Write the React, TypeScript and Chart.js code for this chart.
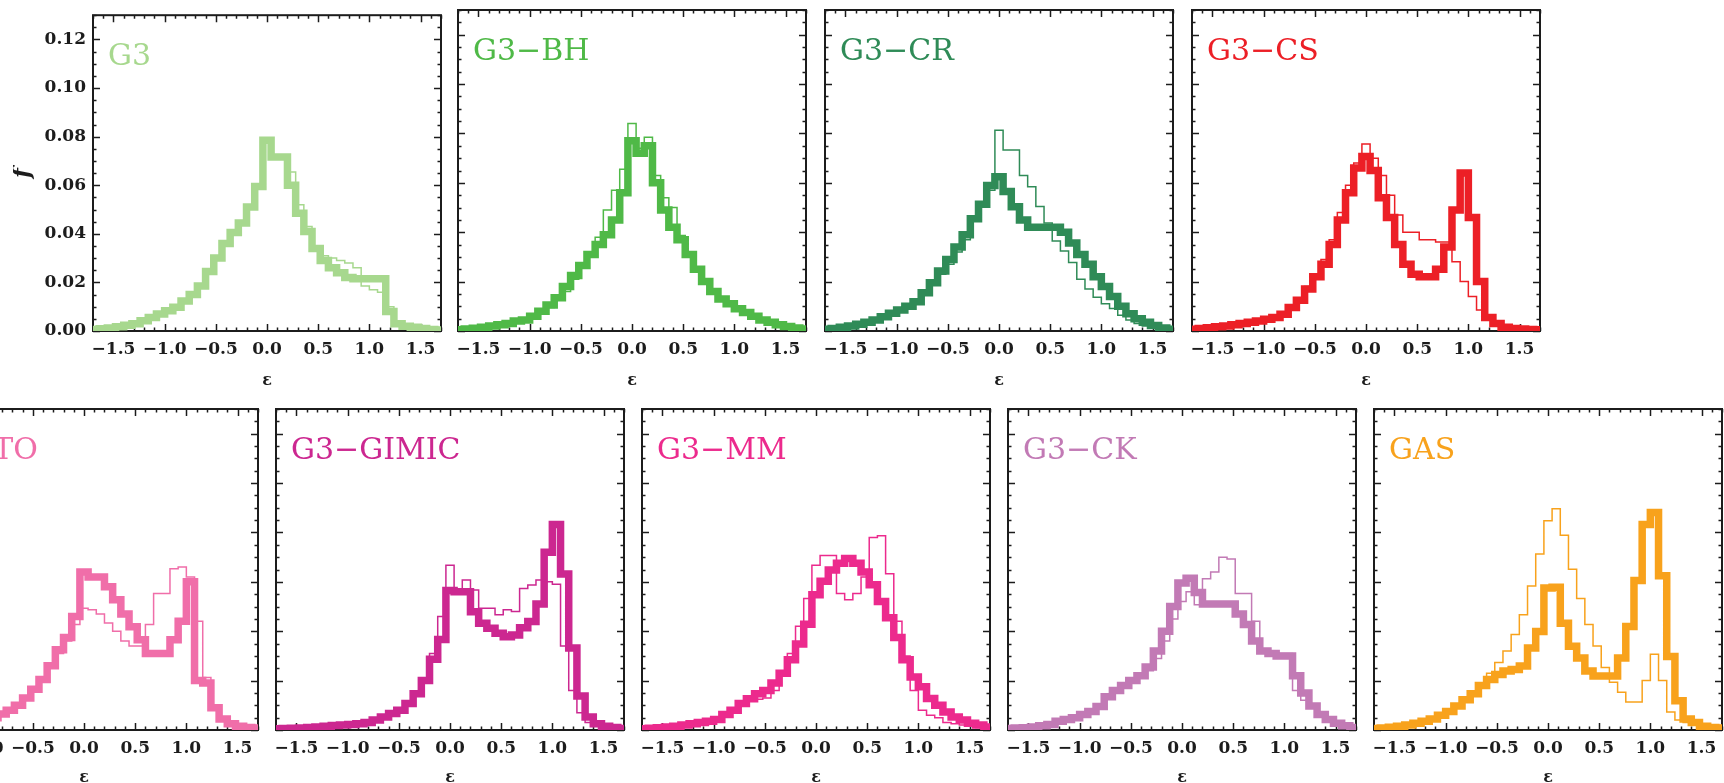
import React, { useEffect, useRef } from "react";
import { Chart, registerables } from "chart.js";

Chart.register(...registerables);

// ---------------------------------------------------------------------------
// Data: circularity (ε) distributions, bin width 0.08
// ---------------------------------------------------------------------------
const EPS_BINS = [
  -1.68, -1.6, -1.52, -1.44, -1.36, -1.28, -1.2, -1.12, -1.04, -0.96,
  -0.88, -0.8, -0.72, -0.64, -0.56, -0.48, -0.4, -0.32, -0.24, -0.16,
  -0.08, 0, 0.08, 0.16, 0.24, 0.32, 0.4, 0.48, 0.56, 0.64,
  0.72, 0.8, 0.88, 0.96, 1.04, 1.12, 1.2, 1.28, 1.36, 1.44,
  1.52, 1.6, 1.68,
];

const X_TICKS = [-1.5, -1.0, -0.5, 0.0, 0.5, 1.0, 1.5];
const Y_TICKS = [0, 0.02, 0.04, 0.06, 0.08, 0.1, 0.12];
const X_MIN = -1.7;
const X_MAX = 1.7;
const Y_MIN = 0;
const Y_MAX = 0.13;

const MODEL_NAMES = ["G3", "G3−BH", "G3−CR", "G3−CS", "G3−TO", "G3−GIMIC", "G3−MM", "G3−CK", "GAS"];

const G3_THICK = [
  0.0006, 0.0009, 0.0012, 0.0017, 0.0024, 0.003, 0.0042, 0.0056, 0.007, 0.0083,
  0.0098, 0.0123, 0.015, 0.0185, 0.0245, 0.03, 0.036, 0.0405, 0.0445, 0.051,
  0.0595, 0.0785, 0.0716, 0.0716, 0.06, 0.0485, 0.041, 0.034, 0.029, 0.026,
  0.024, 0.022, 0.0215, 0.0215, 0.0215, 0.0215, 0.008, 0.003, 0.002, 0.0015,
  0.001, 0.0006, 0.0004,
];
const G3_THIN = [
  0.0006, 0.0009, 0.0012, 0.0017, 0.0024, 0.003, 0.0042, 0.0056, 0.007, 0.0083,
  0.0098, 0.0123, 0.015, 0.0185, 0.0245, 0.03, 0.036, 0.0405, 0.0445, 0.051,
  0.0595, 0.0785, 0.0716, 0.0716, 0.0655, 0.052, 0.043, 0.035, 0.031, 0.03,
  0.029, 0.028, 0.026, 0.0185, 0.017, 0.016, 0.01, 0.004, 0.002, 0.0015,
  0.001, 0.0006, 0.0004,
];

const BH_THICK = [
  0.0005, 0.0008, 0.0011, 0.0015, 0.002, 0.0025, 0.003, 0.004, 0.0045, 0.006,
  0.008, 0.0105, 0.0135, 0.018, 0.0225, 0.0265, 0.031, 0.035, 0.039, 0.045,
  0.056, 0.077, 0.072, 0.075, 0.06, 0.049, 0.042, 0.037, 0.031, 0.025,
  0.02, 0.016, 0.013, 0.011, 0.009, 0.0075, 0.006, 0.0045, 0.0035, 0.0025,
  0.0018, 0.0012, 0.0008,
];
const BH_THIN = [
  0.0005, 0.0008, 0.0011, 0.0015, 0.002, 0.0025, 0.003, 0.004, 0.0045, 0.006,
  0.0075, 0.0095, 0.0125, 0.016, 0.021, 0.0265, 0.032, 0.038, 0.049, 0.057,
  0.0655, 0.084, 0.074, 0.0785, 0.063, 0.054, 0.05, 0.0387, 0.031, 0.025,
  0.02, 0.016, 0.013, 0.011, 0.009, 0.0075, 0.006, 0.0045, 0.0035, 0.0025,
  0.0018, 0.0012, 0.0008,
];

const CR_THICK = [
  0.0007, 0.001, 0.0015, 0.002, 0.0027, 0.0035, 0.0045, 0.0058, 0.0072, 0.0085,
  0.01, 0.0118, 0.0155, 0.0195, 0.0243, 0.029, 0.034, 0.039, 0.0455, 0.0513,
  0.0589, 0.0625, 0.0565, 0.0503, 0.045, 0.042, 0.042, 0.042, 0.042, 0.04,
  0.0356, 0.031, 0.027, 0.022, 0.018, 0.014, 0.01, 0.007, 0.005, 0.0035,
  0.0022, 0.0012, 0.0007,
];
const CR_THIN = [
  0.0007, 0.001, 0.0015, 0.002, 0.0027, 0.0035, 0.0045, 0.0058, 0.0072, 0.0085,
  0.01, 0.0118, 0.015, 0.019, 0.023, 0.027, 0.032, 0.037, 0.0445, 0.0505,
  0.057, 0.0813, 0.0733, 0.0733, 0.063, 0.0584, 0.0504, 0.0437, 0.0364, 0.0324,
  0.0277, 0.021, 0.017, 0.0137, 0.011, 0.0091, 0.0064, 0.0045, 0.003, 0.002,
  0.0012, 0.0007, 0.0004,
];

const CS_THICK = [
  0.0007, 0.001, 0.0013, 0.0017, 0.002, 0.0025, 0.003, 0.0035, 0.004, 0.0048,
  0.0055, 0.0068, 0.0095, 0.0125, 0.017, 0.022, 0.027, 0.035, 0.045, 0.056,
  0.066, 0.0707, 0.065, 0.054, 0.046, 0.035, 0.027, 0.023, 0.022, 0.022,
  0.025, 0.034, 0.049, 0.064, 0.046, 0.02, 0.0055, 0.003, 0.0015, 0.001,
  0.0008, 0.0006, 0.0005,
];
const CS_THIN = [
  0.0007, 0.001, 0.0013, 0.0017, 0.002, 0.0025, 0.003, 0.0035, 0.004, 0.0048,
  0.0055, 0.007, 0.0098, 0.013, 0.018, 0.023, 0.029, 0.037, 0.048, 0.059,
  0.068, 0.0757, 0.07, 0.063, 0.055, 0.047, 0.04, 0.04, 0.037, 0.037,
  0.036, 0.036, 0.028, 0.02, 0.014, 0.0085, 0.006, 0.003, 0.0015, 0.001,
  0.0008, 0.0006, 0.0005,
];

const TO_THICK = [
  0.0005, 0.0007, 0.001, 0.0013, 0.0017, 0.002, 0.0025, 0.003, 0.0035, 0.004,
  0.005, 0.0065, 0.008, 0.01, 0.013, 0.0165, 0.0205, 0.026, 0.0325, 0.0375,
  0.046, 0.064, 0.062, 0.062, 0.058, 0.0527, 0.047, 0.0418, 0.0365, 0.031,
  0.031, 0.031, 0.0365, 0.044, 0.06, 0.02, 0.019, 0.009, 0.0045, 0.0025,
  0.0015, 0.001, 0.0008,
];
const TO_THIN = [
  0.0005, 0.0007, 0.001, 0.0013, 0.0017, 0.002, 0.0025, 0.003, 0.0035, 0.004,
  0.005, 0.0065, 0.008, 0.01, 0.013, 0.0165, 0.02, 0.025, 0.031, 0.036,
  0.0427, 0.0493, 0.0487, 0.047, 0.0433, 0.04, 0.036, 0.034, 0.034, 0.0427,
  0.0553, 0.0553, 0.0653, 0.066, 0.062, 0.044, 0.0213, 0.01, 0.004, 0.002,
  0.0015, 0.001, 0.0008,
];

const GIMIC_THICK = [
  0.0005, 0.0006, 0.0007, 0.0008, 0.001, 0.0012, 0.0015, 0.0018, 0.002, 0.0022,
  0.0025, 0.003, 0.004, 0.0053, 0.0067, 0.008, 0.0107, 0.0147, 0.02, 0.0287,
  0.0367, 0.0565, 0.056, 0.056, 0.0479, 0.0432, 0.0412, 0.0392, 0.0378, 0.0385,
  0.0414, 0.0439, 0.051, 0.072, 0.0832, 0.0632, 0.0332, 0.0138, 0.0053, 0.0025,
  0.0015, 0.001, 0.0006,
];
const GIMIC_THIN = [
  0.0005, 0.0006, 0.0007, 0.0008, 0.001, 0.0012, 0.0015, 0.0018, 0.002, 0.0022,
  0.0025, 0.003, 0.004, 0.005, 0.0065, 0.008, 0.0105, 0.0145, 0.02, 0.031,
  0.046, 0.0667, 0.0553, 0.0607, 0.0567, 0.0493, 0.0493, 0.0467, 0.0487, 0.048,
  0.0573, 0.0587, 0.0607, 0.06, 0.059, 0.034, 0.016, 0.007, 0.003, 0.002,
  0.0012, 0.0008, 0.0005,
];

const MM_THICK = [
  0.0005, 0.0007, 0.0009, 0.0012, 0.0015, 0.002, 0.0025, 0.003, 0.0035, 0.0043,
  0.0063, 0.008, 0.0107, 0.0127, 0.0147, 0.016, 0.019, 0.023, 0.0285, 0.0348,
  0.0428, 0.0548, 0.0602, 0.0648, 0.0675, 0.0695, 0.0675, 0.064, 0.0588, 0.052,
  0.0455, 0.0375, 0.0285, 0.0215, 0.0175, 0.0128, 0.01, 0.0073, 0.0053, 0.004,
  0.0027, 0.002, 0.0012,
];
const MM_THIN = [
  0.0005, 0.0007, 0.0009, 0.0012, 0.0015, 0.002, 0.0025, 0.003, 0.0035, 0.0043,
  0.006, 0.0078, 0.01, 0.012, 0.0125, 0.013, 0.016, 0.022, 0.031, 0.042,
  0.0533, 0.0667, 0.0707, 0.0707, 0.0553, 0.0527, 0.0553, 0.062, 0.078, 0.0787,
  0.0633, 0.044, 0.03, 0.016, 0.008, 0.006, 0.005, 0.003, 0.0025, 0.002,
  0.0015, 0.001, 0.0008,
];

const CK_THICK = [
  0.0006, 0.0008, 0.0009, 0.0012, 0.0017, 0.0022, 0.0035, 0.0043, 0.005, 0.0063,
  0.0075, 0.0095, 0.0135, 0.016, 0.018, 0.02, 0.022, 0.0255, 0.032, 0.04,
  0.05, 0.0595, 0.0615, 0.0557, 0.051, 0.051, 0.051, 0.051, 0.047, 0.0427,
  0.036, 0.032, 0.031, 0.03, 0.03, 0.022, 0.015, 0.0097, 0.0063, 0.0043,
  0.0027, 0.0017, 0.001,
];
const CK_THIN = [
  0.0006, 0.0008, 0.0009, 0.0012, 0.0017, 0.0022, 0.0035, 0.0043, 0.005, 0.0063,
  0.0075, 0.0095, 0.013, 0.015, 0.017, 0.019, 0.021, 0.024, 0.029, 0.036,
  0.045, 0.052, 0.056, 0.0507, 0.0613, 0.064, 0.07, 0.0693, 0.0553, 0.0553,
  0.044, 0.032, 0.032, 0.031, 0.031, 0.016, 0.012, 0.009, 0.006, 0.0043,
  0.0027, 0.0017, 0.001,
];

const GAS_THICK = [
  0.0006, 0.0008, 0.0011, 0.0015, 0.002, 0.0027, 0.0035, 0.0045, 0.006, 0.0075,
  0.0097, 0.0123, 0.0147, 0.018, 0.0205, 0.0225, 0.0239, 0.0245, 0.0259, 0.0332,
  0.0399, 0.0575, 0.0578, 0.0432, 0.0339, 0.0292, 0.0239, 0.0219, 0.0219, 0.0219,
  0.0292, 0.0419, 0.0605, 0.0832, 0.0881, 0.0625, 0.0298, 0.0118, 0.0045, 0.003,
  0.0015, 0.001, 0.0008,
];
const GAS_THIN = [
  0.0006, 0.0008, 0.0011, 0.0015, 0.002, 0.0027, 0.0035, 0.0045, 0.006, 0.0075,
  0.0097, 0.0123, 0.0147, 0.018, 0.023, 0.0273, 0.032, 0.0387, 0.0467, 0.0583,
  0.0713, 0.0847, 0.0896, 0.0789, 0.0651, 0.0533, 0.0427, 0.034, 0.0253, 0.0193,
  0.0153, 0.0113, 0.0113, 0.02, 0.0307, 0.02, 0.0073, 0.004, 0.003, 0.002,
  0.0015, 0.001, 0.0008,
];

const THICK_SERIES = [G3_THICK, BH_THICK, CR_THICK, CS_THICK, TO_THICK, GIMIC_THICK, MM_THICK, CK_THICK, GAS_THICK];
const THIN_SERIES = [G3_THIN, BH_THIN, CR_THIN, CS_THIN, TO_THIN, GIMIC_THIN, MM_THIN, CK_THIN, GAS_THIN];

// ---------------------------------------------------------------------------
// Styling and layout
// ---------------------------------------------------------------------------
const MODEL_COLORS = ["#a7d88e", "#4fb947", "#2f8b57", "#ec1f26", "#f06ea9", "#cc2790", "#ec2a8d", "#c27ab5", "#f8a21c"];

// plot-area origin (left, top) of each panel on the page, and its x-axis band height
const PANEL_ORIGINS = [
  [93, 10], [458, 10], [825, 10], [1192, 10],
  [-90, 409], [276, 409], [642, 409], [1008, 409], [1374, 409],
];
const AXIS_H_BY_ROW = [59, 57];
const PLOT_W = 348;
const PLOT_H = 321;
const AXIS_W = 80;
const PAD_T = 12;
const PAD_R = 12;
const CANVAS_W = AXIS_W + PLOT_W + PAD_R;

const INK = "#1c1c1c";
const SERIF = '"DejaVu Serif", "Liberation Serif", serif';
const THICK_W = 7.5;
const THIN_W = 1.5;

const formatSigned = (v: number, digits: number) =>
  (v < -1e-9 ? "−" : "") + Math.abs(v).toFixed(digits);

// Step outline centred on each bin, extended half a bin at both ends
function stepPoints(values: number[]) {
  const pts = EPS_BINS.map((x, i) => ({ x, y: values[i] }));
  const half = (EPS_BINS[1] - EPS_BINS[0]) / 2;
  return [
    { x: EPS_BINS[0] - half, y: values[0] },
    ...pts,
    { x: EPS_BINS[EPS_BINS.length - 1] + half, y: values[values.length - 1] },
  ];
}

// Frame with inward major/minor ticks on all four sides, plus the model name
const framePlugin = {
  id: "frame",
  beforeDatasetsDraw(chart: any) {
    const { ctx, chartArea, scales } = chart;
    const { left, right, top, bottom } = chartArea;
    const xs = scales.x;
    const ys = scales.y;
    ctx.save();
    ctx.strokeStyle = INK;
    ctx.lineWidth = 1.5;
    ctx.beginPath();
    for (let i = -17; i <= 17; i++) {
      const v = i / 10;
      const major = i % 5 === 0 && Math.abs(i) <= 15;
      const len = major ? 7 : 3.5;
      const px = Math.round(xs.getPixelForValue(v)) + 0.5;
      ctx.moveTo(px, bottom);
      ctx.lineTo(px, bottom - len);
      ctx.moveTo(px, top);
      ctx.lineTo(px, top + len);
    }
    for (let i = 0; i <= 26; i++) {
      const v = i * 0.005;
      const major = i % 4 === 0;
      const len = major ? 7 : 3.5;
      const py = Math.round(ys.getPixelForValue(v)) + 0.5;
      ctx.moveTo(left, py);
      ctx.lineTo(left + len, py);
      ctx.moveTo(right, py);
      ctx.lineTo(right - len, py);
    }
    ctx.stroke();
    ctx.lineWidth = 2;
    ctx.strokeRect(left, top, right - left, bottom - top);
    ctx.restore();
  },
  afterDatasetsDraw(chart: any, _args: any, opts: any) {
    const { ctx, chartArea } = chart;
    ctx.save();
    ctx.font = `30px ${SERIF}`;
    ctx.fillStyle = opts.color;
    ctx.textBaseline = "alphabetic";
    ctx.textAlign = "left";
    ctx.fillText(opts.label, chartArea.left + 15, chartArea.top + 50);
    ctx.restore();
  },
};

function Panel({ index }: { index: number }) {
  const canvasRef = useRef<HTMLCanvasElement | null>(null);
  const [ox, oy] = PANEL_ORIGINS[index];
  const axisH = AXIS_H_BY_ROW[index < 4 ? 0 : 1];
  const canvasH = PAD_T + PLOT_H + axisH;

  useEffect(() => {
    if (!canvasRef.current) return;
    const color = MODEL_COLORS[index];
    const showY = index === 0;
    const chart = new Chart(canvasRef.current, {
      type: "line",
      data: {
        datasets: [
          {
            label: MODEL_NAMES[index] + " (thick)",
            data: stepPoints(THICK_SERIES[index]),
            borderColor: color,
            borderWidth: THICK_W,
            stepped: "middle",
            pointRadius: 0,
            fill: false,
            borderJoinStyle: "miter",
          },
          {
            label: MODEL_NAMES[index] + " (thin)",
            data: stepPoints(THIN_SERIES[index]),
            borderColor: color,
            borderWidth: THIN_W,
            stepped: "middle",
            pointRadius: 0,
            fill: false,
            borderJoinStyle: "miter",
          },
        ],
      },
      options: {
        responsive: false,
        animation: false,
        devicePixelRatio: 1,
        events: [],
        layout: { padding: { top: PAD_T, right: PAD_R, left: 0, bottom: 0 } },
        plugins: {
          legend: { display: false },
          tooltip: { enabled: false },
          title: { display: false },
          frame: { label: MODEL_NAMES[index], color },
        } as any,
        scales: {
          x: {
            type: "linear",
            min: X_MIN,
            max: X_MAX,
            afterBuildTicks: (s: any) => {
              s.ticks = X_TICKS.map((value) => ({ value }));
            },
            afterFit: (s: any) => {
              s.height = axisH;
            },
            grid: { display: false, drawTicks: false },
            border: { display: false },
            ticks: {
              color: INK,
              font: { family: SERIF, size: 17, weight: "bold" },
              padding: 8,
              autoSkip: false,
              maxRotation: 0,
              callback: (v: any) => formatSigned(Number(v), 1),
            },
            title: {
              display: true,
              text: "ε",
              color: INK,
              font: { family: SERIF, size: 16, weight: "bold" },
              padding: 0,
            },
          },
          y: {
            type: "linear",
            min: Y_MIN,
            max: Y_MAX,
            afterBuildTicks: (s: any) => {
              s.ticks = Y_TICKS.map((value) => ({ value }));
            },
            afterFit: (s: any) => {
              s.width = AXIS_W;
            },
            grid: { display: false, drawTicks: false },
            border: { display: false },
            ticks: {
              display: showY,
              color: INK,
              font: { family: SERIF, size: 17, weight: "bold" },
              padding: 7,
              callback: (v: any) => Number(v).toFixed(2),
            },
            title: {
              display: showY,
              text: "f",
              color: INK,
              font: { family: SERIF, size: 23, style: "italic", weight: "bold" },
              padding: { top: -4, bottom: 0 },
            },
          },
        },
      } as any,
      plugins: [framePlugin],
    });
    return () => chart.destroy();
  }, [index, axisH]);

  return (
    <canvas
      ref={canvasRef}
      width={CANVAS_W}
      height={canvasH}
      style={{
        position: "absolute",
        left: ox - AXIS_W,
        top: oy - PAD_T,
        width: CANVAS_W,
        height: canvasH,
      }}
    />
  );
}

export default function App() {
  return (
    <div
      style={{
        position: "fixed",
        left: 0,
        top: 0,
        width: 1724,
        height: 783,
        overflow: "hidden",
        background: "#ffffff",
      }}
    >
      {MODEL_NAMES.map((_, i) => (
        <Panel key={i} index={i} />
      ))}
    </div>
  );
}
